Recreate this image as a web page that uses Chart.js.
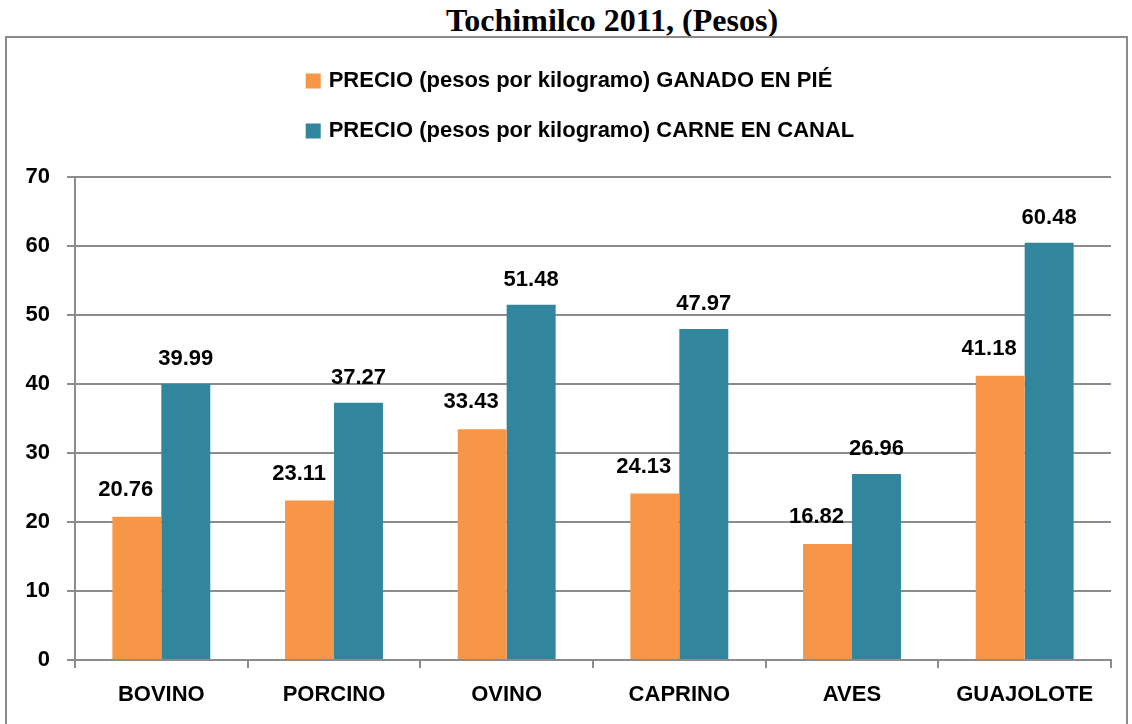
<!DOCTYPE html>
<html>
<head>
<meta charset="utf-8">
<script src="https://cdn.jsdelivr.net/npm/chart.js@4.4.0/dist/chart.umd.min.js"></script>
<style>
    html, body { margin: 0; padding: 0; background: #fff; }
    body { width: 1132px; height: 724px; position: relative; overflow: hidden; }
    #title {
        position: absolute; left: 0; top: 0px; width: 1224px; text-align: center;
        font: bold 32px "Liberation Serif", "Times New Roman", serif; color: #000;
        line-height: 40px;
    }
    #box {
        position: absolute; left: 5px; top: 36px; width: 1119px; height: 700px;
        border: 2px solid #8a8a8a;
    }
    #chart { position: absolute; left: 0; top: 0; }
</style>
</head>
<body>
<div id="title">Tochimilco 2011, (Pesos)</div>
<div id="box"></div>
<canvas id="chart" width="1132" height="724"></canvas>
<script>
// Datos del gráfico
const categorias = ["BOVINO", "PORCINO", "OVINO", "CAPRINO", "AVES", "GUAJOLOTE"];
const precioGanadoEnPie = [20.76, 23.11, 33.43, 24.13, 16.82, 41.18];
const precioCarneEnCanal = [39.99, 37.27, 51.48, 47.97, 26.96, 60.48];
const nombresSeries = [
    "PRECIO (pesos por kilogramo) GANADO EN PIÉ",
    "PRECIO (pesos por kilogramo) CARNE EN CANAL"
];
const ticksY = [0, 10, 20, 30, 40, 50, 60, 70];

const colorNaranja = "#F79646";
const colorAzul = "#31859C";
const colorGris = "#8c8c8c";
const fuente = "'Liberation Sans', Arial, sans-serif";

// Leyenda apilada verticalmente (como en Excel)
const leyendaVertical = {
    id: "leyendaVertical",
    afterDraw(chart) {
        const ctx = chart.ctx;
        ctx.save();
        ctx.font = "bold 22px " + fuente;
        ctx.textBaseline = "middle";
        ctx.textAlign = "left";
        const anchoMax = Math.max(...chart.data.datasets.map((d) => ctx.measureText(d.label).width));
        const x0 = 580 - (15 + 8 + anchoMax) / 2;
        chart.data.datasets.forEach((d, i) => {
            const y = 81 + i * 50;
            ctx.fillStyle = d.backgroundColor;
            ctx.fillRect(x0, y - 7.5, 15, 15);
            ctx.fillStyle = "#000";
            ctx.fillText(d.label, x0 + 23, y);
        });
        ctx.restore();
    }
};

// Etiquetas de valor sobre cada barra
const etiquetasValor = {
    id: "etiquetasValor",
    afterDatasetsDraw(chart) {
        const ctx = chart.ctx;
        ctx.save();
        ctx.font = "bold 22px " + fuente;
        ctx.fillStyle = "#000";
        ctx.textBaseline = "alphabetic";
        const barrasAzul = chart.getDatasetMeta(1).data;
        chart.getDatasetMeta(0).data.forEach((bar, i) => {
            const texto = chart.data.datasets[0].data[i].toFixed(2);
            const azul = barrasAzul[i];
            ctx.textAlign = "right";
            ctx.fillText(texto, azul.x - azul.width / 2 - 8, bar.y - 21);
        });
        barrasAzul.forEach((bar, i) => {
            const texto = chart.data.datasets[1].data[i].toFixed(2);
            ctx.textAlign = "center";
            ctx.fillText(texto, bar.x, bar.y - 19);
        });
        ctx.restore();
    }
};

new Chart(document.getElementById("chart"), {
    type: "bar",
    data: {
        labels: categorias,
        datasets: [
            { label: nombresSeries[0], data: precioGanadoEnPie, backgroundColor: colorNaranja },
            { label: nombresSeries[1], data: precioCarneEnCanal, backgroundColor: colorAzul }
        ]
    },
    options: {
        responsive: false,
        animation: false,
        layout: { padding: { top: 177, right: 21, left: 0, bottom: 0 } },
        datasets: { bar: { categoryPercentage: 0.567, barPercentage: 1.0 } },
        plugins: {
            legend: { display: false },
            tooltip: { enabled: false }
        },
        scales: {
            x: {
                afterFit: (s) => { s.height = 64; },
                grid: {
                    display: true, offset: true, drawOnChartArea: false,
                    color: colorGris, lineWidth: 2, tickLength: 8
                },
                border: { color: colorGris, width: 2 },
                ticks: { color: "#000", font: { family: fuente, size: 22, weight: "bold" }, padding: 14 }
            },
            y: {
                min: 0, max: 70,
                afterFit: (s) => { s.width = 75; },
                afterBuildTicks: (s) => { s.ticks = ticksY.map((v) => ({ value: v })); },
                grid: { color: colorGris, lineWidth: 2, tickLength: 8 },
                border: { color: colorGris, width: 2 },
                ticks: { color: "#000", font: { family: fuente, size: 22, weight: "bold" }, padding: 17 }
            }
        }
    },
    plugins: [leyendaVertical, etiquetasValor]
});
</script>
</body>
</html>
